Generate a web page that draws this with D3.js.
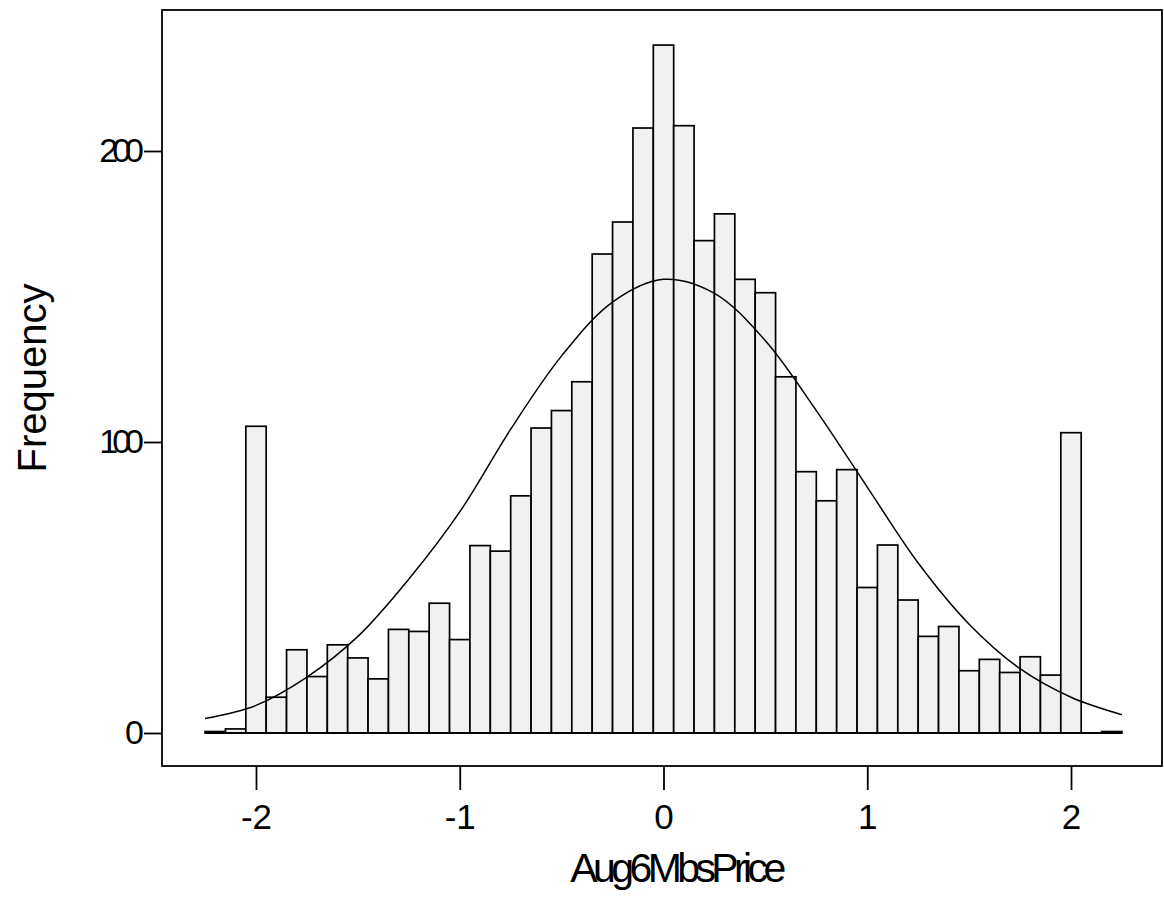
<!DOCTYPE html>
<html>
<head>
<meta charset="utf-8">
<script src="https://cdn.jsdelivr.net/npm/d3@7"></script>
<style>
  html, body { margin: 0; padding: 0; background: #fff; }
  svg { display: block; }
  text { font-family: "Liberation Sans", Arial, sans-serif; fill: #000; }
</style>
</head>
<body>
<svg id="chart" width="1164" height="905"></svg>
<script>
// ---- data ----
const binCenters = [-2.2,-2.1,-2.0,-1.9,-1.8,-1.7,-1.6,-1.5,-1.4,-1.3,-1.2,-1.1,-1.0,-0.9,-0.8,-0.7,-0.6,-0.5,-0.4,-0.3,-0.2,-0.1,0.0,0.1,0.2,0.3,0.4,0.5,0.6,0.7,0.8,0.9,1.0,1.1,1.2,1.3,1.4,1.5,1.6,1.7,1.8,1.9,2.0,2.1,2.2];
const frequencies = [0.5,1.4,105.4,12.3,28.6,19.4,30.3,25.8,18.6,35.6,34.9,44.6,32.1,64.4,62.5,81.5,104.8,110.8,120.7,164.6,175.6,207.9,236.4,208.7,169.2,178.4,155.9,151.3,122.4,89.8,79.8,90.5,50.0,64.6,45.7,33.2,36.6,21.4,25.3,20.8,26.2,19.9,103.2,0,0.5];
const binWidth = 0.1;
// fitted normal curve
const curveX = [-2.25,-2.0,-1.75,-1.5,-1.25,-1.0,-0.75,-0.5,-0.25,0.0,0.25,0.5,0.75,1.0,1.25,1.5,1.75,2.0,2.25];
const curveY = [5.0,9.5,19.2,33.2,52.9,76.0,104.4,129.6,148.1,155.9,151.1,134.8,110.8,84.5,58.4,37.4,22.1,12.3,6.3];
const xTicks = [-2,-1,0,1,2];
const yTicks = [0,100,200];
const xLabel = "Aug6MbsPrice";
const yLabel = "Frequency";

// ---- layout ----
const svg = d3.select("#chart");
const frame = {left: 162, right: 1162, top: 10, bottom: 766};
const x = d3.scaleLinear().domain([-2, 2]).range([256, 1071]);
const y = d3.scaleLinear().domain([0, 200]).range([733, 151]);

// frame
svg.append("rect")
  .attr("x", frame.left).attr("y", frame.top)
  .attr("width", frame.right - frame.left).attr("height", frame.bottom - frame.top)
  .attr("fill", "none").attr("stroke", "#000").attr("stroke-width", 1.8);

// bars
const bins = binCenters.map((c, i) => ({c, v: frequencies[i]}));
svg.append("g").selectAll("rect").data(bins).join("rect")
  .attr("x", d => x(d.c - binWidth / 2))
  .attr("width", d => x(d.c + binWidth / 2) - x(d.c - binWidth / 2))
  .attr("y", d => y(d.v))
  .attr("height", d => y(0) - y(d.v))
  .attr("fill", "#f1f1f1")
  .attr("stroke", "#000").attr("stroke-width", 1.7);

// histogram baseline
const first = binCenters[0] - binWidth / 2, last = binCenters[binCenters.length - 1] + binWidth / 2;
svg.append("line")
  .attr("x1", x(first)).attr("x2", x(last))
  .attr("y1", y(0)).attr("y2", y(0))
  .attr("stroke", "#000").attr("stroke-width", 1.8);

// normal curve
const line = d3.line().x(d => x(d[0])).y(d => y(d[1])).curve(d3.curveCatmullRom);
svg.append("path")
  .datum(curveX.map((v, i) => [v, curveY[i]]))
  .attr("d", line).attr("fill", "none")
  .attr("stroke", "#000").attr("stroke-width", 1.5);

// x axis
const xAxis = d3.axisBottom(x).tickValues(xTicks).tickSize(24).tickPadding(14)
  .tickFormat(d3.format("d"));
const gx = svg.append("g").attr("transform", `translate(0,${frame.bottom})`).call(xAxis);
gx.select(".domain").remove();
gx.selectAll(".tick line").attr("stroke", "#000").attr("stroke-width", 1.8);
gx.selectAll(".tick text").attr("font-size", 35).attr("font-family", "Liberation Sans, Arial, sans-serif")
  .text(d => d < 0 ? "-" + Math.abs(d) : d);

// y axis
const yAxis = d3.axisLeft(y).tickValues(yTicks).tickSize(18).tickPadding(6)
  .tickFormat(d3.format("d"));
const gy = svg.append("g").attr("transform", `translate(${frame.left},0)`).call(yAxis);
gy.select(".domain").remove();
gy.selectAll(".tick line").attr("stroke", "#000").attr("stroke-width", 1.8);
gy.selectAll(".tick text").attr("font-size", 34).attr("letter-spacing", -6)
  .attr("font-family", "Liberation Sans, Arial, sans-serif");

// axis titles
svg.append("text")
  .attr("x", 676).attr("y", 882)
  .attr("text-anchor", "middle")
  .attr("font-size", 41).attr("letter-spacing", -4.6)
  .text(xLabel);

svg.append("text")
  .attr("transform", "translate(46,378) rotate(-90)")
  .attr("text-anchor", "middle")
  .attr("font-size", 40)
  .text(yLabel);
</script>
</body>
</html>
